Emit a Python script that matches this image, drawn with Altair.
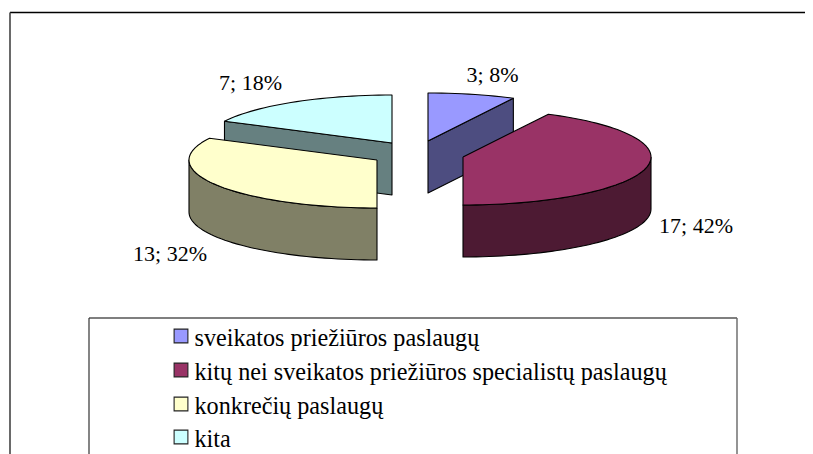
import math
import altair as alt
import pandas as pd

categories = ["sveikatos priežiūros paslaugų",
              "kitų nei sveikatos priežiūros specialistų paslaugų",
              "konkrečių paslaugų", "kita"]
values = [3, 17, 13, 7]
slice_labels = ["3; 8%", "17; 42%", "13; 32%", "7; 18%"]
top_colors = ["#9999FF", "#993366", "#FFFFCC", "#CCFFFF"]
side_colors = ["#4D4D80", "#4D1A33", "#808066", "#668080"]
centers_x = [428, 463, 377, 392]
centers_y = [141, 157, 160, 143]
label_x = [492.5, 696, 170, 250.5]
label_y = [75, 226, 254, 83]
legend_y = [336, 370, 404, 437]
RX, RY, DEPTH = 188, 48, 52
W, H = 797, 446

X = alt.X("x:Q", scale=alt.Scale(domain=[8, 8 + W]), axis=None)
Y = alt.Y("y:Q", scale=alt.Scale(domain=[8 + H, 8]), axis=None)

total = sum(values)
starts, run = [], 0
for v in values:
    starts.append(run / total * 360)
    run += v
ends = starts[1:] + [360]


def pt(i, a, drop=0):
    r = math.radians(a)
    return (centers_x[i] + RX * math.sin(r), centers_y[i] - RY * math.cos(r) + drop)


def arc(i, a0, a1, drop=0):
    n = max(2, int(abs(a1 - a0) / 2))
    return [pt(i, a0 + (a1 - a0) * k / n, drop) for k in range(n + 1)]


def poly(points, fill):
    rows = [{"x": p[0], "y": p[1], "o": k} for k, p in enumerate(points + points[:1])]
    return alt.Chart(pd.DataFrame(rows)).mark_line(
        filled=True, fill=fill, stroke="#000000", strokeWidth=1.1, strokeJoin="round"
    ).encode(x=X, y=Y, order="o:Q")


def radial_side(i, a):
    c = (centers_x[i], centers_y[i])
    rim = pt(i, a)
    return [c, rim, (rim[0], rim[1] + DEPTH), (c[0], c[1] + DEPTH)]


def top_face(i):
    return [(centers_x[i], centers_y[i])] + arc(i, starts[i], ends[i])


layers = []

# frame and legend box
rules = pd.DataFrame([
    {"x": 10, "x2": 805, "y": 12.5, "y2": 12.5, "c": "#000000", "w": 1.4},
    {"x": 10, "x2": 10, "y": 12.5, "y2": 454, "c": "#444444", "w": 1.6},
    {"x": 89, "x2": 737, "y": 318, "y2": 318, "c": "#000000", "w": 1.2},
    {"x": 89, "x2": 89, "y": 318, "y2": 454, "c": "#333333", "w": 1.2},
    {"x": 737, "x2": 737, "y": 318, "y2": 454, "c": "#666666", "w": 1.4},
])
layers.append(alt.Chart(rules).mark_rule().encode(
    x=X, y=Y, x2="x2:Q", y2="y2:Q", color=alt.Color("c:N", scale=None),
    strokeWidth=alt.StrokeWidth("w:Q", scale=None)))

# paint order: back slices first
layers.append(poly(radial_side(3, starts[3]), side_colors[3]))
layers.append(poly(top_face(3), top_colors[3]))
layers.append(poly(radial_side(0, ends[0]), side_colors[0]))
layers.append(poly(top_face(0), top_colors[0]))

rim = arc(2, starts[2], 270)
layers.append(poly(rim + [(p[0], p[1] + DEPTH) for p in reversed(rim)], side_colors[2]))
layers.append(poly(top_face(2), top_colors[2]))

rim = arc(1, 90, ends[1])
layers.append(poly(rim + [(p[0], p[1] + DEPTH) for p in reversed(rim)], side_colors[1]))
layers.append(poly(top_face(1), top_colors[1]))

# slice labels
lab = pd.DataFrame({"x": label_x, "y": label_y, "t": slice_labels})
layers.append(alt.Chart(lab).mark_text(
    font="Liberation Serif", fontSize=22, color="#000000", baseline="middle", align="center"
).encode(x=X, y=Y, text="t:N"))

# legend
leg = pd.DataFrame({"x": [181] * 4, "tx": [194.5] * 4, "y": legend_y, "t": categories,
                    "f": top_colors, "s": side_colors})
layers.append(alt.Chart(leg).mark_point(shape="square", size=190, filled=True, strokeWidth=1.1, opacity=1).encode(
    x=X, y=Y, fill=alt.Fill("f:N", scale=None), stroke=alt.value("#222222")))
layers.append(alt.Chart(leg).mark_text(
    font="Liberation Serif", fontSize=24.2, dy=3, color="#000000", baseline="middle", align="left"
).encode(x=alt.X("tx:Q", scale=alt.Scale(domain=[8, 8 + W]), axis=None), y=Y, text="t:N"))

chart = alt.layer(*layers).properties(
    width=W, height=H, padding=0, autosize=alt.AutoSizeParams(type="none"), background="#FFFFFF"
).configure_view(stroke=None)

chart.save("out.html", embed_options={"renderer": "svg", "actions": False})
